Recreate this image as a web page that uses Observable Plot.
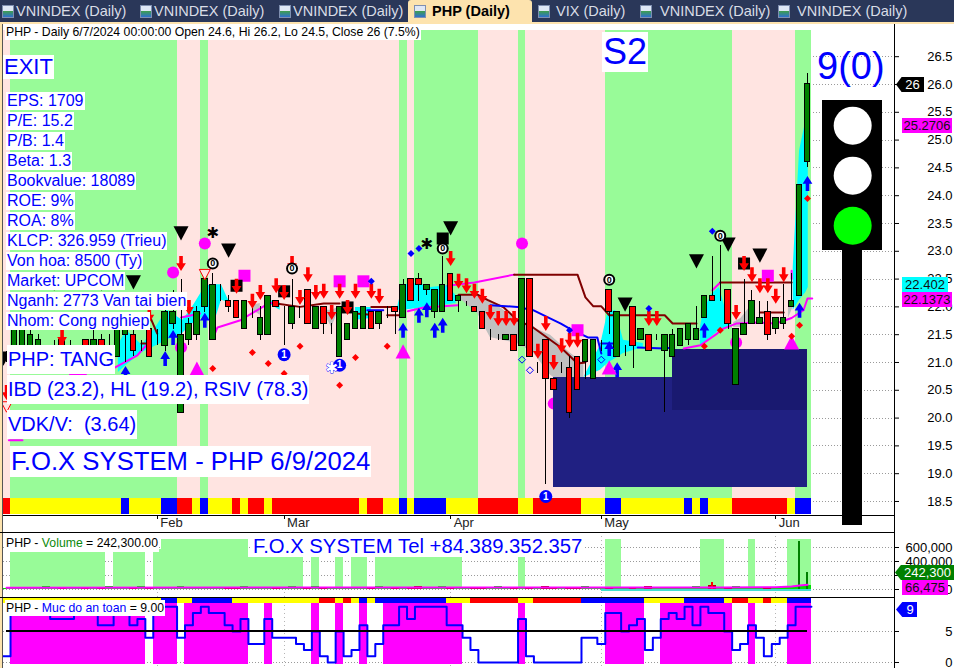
<!DOCTYPE html>
<html><head><meta charset="utf-8">
<script src="https://cdn.jsdelivr.net/npm/d3@7"></script>
<script src="https://cdn.jsdelivr.net/npm/@observablehq/plot@0.6"></script>
<style>
html,body{margin:0;padding:0;background:#fff;overflow:hidden}
#page{position:relative;width:954px;height:668px;font-family:"Liberation Sans",Arial,sans-serif;overflow:hidden}
#page>*{position:absolute}
.lbl{background:#fff;color:#00f;white-space:pre;box-sizing:border-box}
.tab{color:#d9dde6;font-size:14.5px;top:3px;white-space:pre}
.icon{width:12px;height:13px;top:5px;background:linear-gradient(#dfe8f6 45%,#3fa04a 45%,#2f6fd0);border:1px solid #7f8fb0;box-sizing:border-box}
.chip{font-size:13px;line-height:15px;height:15px;text-align:center;white-space:pre}
svg{display:block}
</style></head><body><div id="page"></div>
<script>
// ---------- Candles (bar 0 .. 101), prices in VND thousand ----------
const opens =[21.1,21.1,21.1,21.1,21.1,21.1,21.2,21.4,21.3,21.2,21.4,21.1,21.4,21.3,21.1,21.5,21.5,21.3,21.6,21.5,21.3,21.7,20.1,21.4,21.5,22.0,21.4,22.2,22.1,22.1,21.6,21.8,21.5,21.5,22.1,21.8,21.7,21.9,22.3,21.6,22.0,21.6,21.1,21.4,21.6,21.6,21.9,21.7,21.8,22.0,21.8,22.5,22.5,22.3,21.9,21.9,22.6,22.1,22.0,22.0,21.9,21.6,21.5,21.4,21.5,21.3,22.5,20.9,21.4,20.7,20.9,20.9,21.1,21.0,20.7,21.3,22.3,21.1,21.2,22.0,21.4,21.5,21.4,21.2,21.1,21.3,21.4,21.4,21.8,22.2,22.4,22.3,20.6,21.5,21.7,21.7,21.9,21.6,21.7,22.0,22.2,24.6];
const highs =[21.2,21.7,21.8,21.6,21.5,21.3,21.4,21.5,21.4,21.3,21.4,21.6,21.5,21.5,21.8,21.7,21.6,21.4,21.7,21.6,22.1,22.3,22.5,21.8,22.0,22.6,22.6,22.4,22.2,22.1,22.1,22.0,22.0,22.2,22.1,22.0,22.5,22.0,22.3,22.0,22.0,21.7,22.0,21.7,21.9,22.0,21.9,21.9,22.0,22.0,22.5,22.5,22.6,22.4,22.3,22.9,22.6,22.2,22.1,22.0,21.9,21.6,21.5,21.5,21.5,22.5,22.5,21.0,21.4,20.7,21.0,21.1,21.1,21.4,21.4,21.4,22.3,21.9,21.3,22.0,21.6,21.5,21.5,21.5,21.6,21.6,21.7,22.0,22.2,22.9,23.1,22.3,21.6,22.5,22.3,22.1,22.1,21.8,22.4,22.6,24.2,26.2];
const lows  =[21.0,21.0,21.0,21.0,21.0,21.0,21.1,21.1,21.1,21.1,21.0,21.1,21.0,21.2,21.1,21.0,21.1,21.2,21.1,21.3,21.2,21.6,20.1,21.3,21.4,21.9,21.4,22.1,21.9,21.8,21.6,21.8,21.4,21.5,22.0,21.3,21.6,21.8,21.7,21.6,21.5,21.5,21.1,21.4,21.6,21.6,21.6,21.6,21.8,21.5,21.8,22.1,22.1,22.2,21.8,21.9,22.1,21.9,22.0,21.9,21.6,21.4,21.4,21.4,21.2,21.3,21.1,20.8,18.8,20.5,20.8,20.0,20.5,20.7,20.7,21.2,21.5,21.1,21.1,20.9,21.4,21.2,21.4,20.1,21.1,21.3,21.3,21.4,21.8,22.1,22.1,21.6,20.6,21.5,21.7,21.7,21.4,21.5,21.6,22.0,22.2,24.5];
const closes=[21.1,21.6,21.6,21.5,21.4,21.2,21.3,21.2,21.3,21.2,21.1,21.4,21.1,21.3,21.7,21.6,21.2,21.3,21.1,21.5,21.9,21.9,21.5,21.7,21.9,22.5,22.4,22.2,22.0,21.8,22.1,21.8,21.8,22.2,22.0,21.8,22.0,21.9,21.7,22.0,21.7,21.6,22.0,21.7,21.9,22.0,21.6,21.9,21.8,21.9,22.4,22.1,22.4,22.4,22.3,22.4,22.1,22.2,22.0,21.9,21.6,21.6,21.5,21.5,21.2,22.5,21.1,20.9,20.7,20.5,20.9,20.1,20.5,21.4,21.4,21.3,21.9,21.9,21.2,21.3,21.6,21.2,21.4,21.5,21.5,21.6,21.7,21.6,22.2,22.1,22.4,21.7,21.6,21.7,22.1,21.8,21.5,21.8,21.8,22.1,24.2,26.0];

// ---------- Background day bands [startBar, endBar] ----------
const greenBands=[[1,22],[25,26],[50,51],[52,60],[65,66],[76,92],[100,102]];
const pinkBands =[[0,1],[22,25],[26,50],[51,52],[60,65],[66,76],[92,100]];
const signalStrip=[[0,1,"#ff0000"],[1,15,"#ffff00"],[15,16,"#0000ff"],[16,20,"#ffff00"],[20,22,"#0000ff"],[22,24,"#ff0000"],[24,25,"#ffff00"],[25,26,"#0000ff"],[26,29,"#ffff00"],[29,30,"#ff0000"],[30,31,"#ffff00"],[31,33,"#ff0000"],[33,34,"#ffff00"],[34,45,"#ff0000"],[45,46,"#ffff00"],[46,48,"#ff0000"],[48,50,"#ffff00"],[50,51,"#0000ff"],[51,52,"#ffff00"],[52,56,"#0000ff"],[56,60,"#ffff00"],[60,65,"#ff0000"],[65,67,"#ffff00"],[67,73,"#ff0000"],[73,76,"#ffff00"],[76,78,"#0000ff"],[78,86,"#ffff00"],[86,87,"#0000ff"],[87,88,"#ffff00"],[88,89,"#0000ff"],[89,92,"#ffff00"],[92,99,"#ff0000"],[99,100,"#ffff00"],[100,102,"#0000ff"]];

// ---------- Overlaid lines, broken into visible pieces ----------
const brownPieces=[
 [[17,21.34],[18,21.34]],[[18,21.85],[19,21.52]],
 [[34,22.06],[37,22.0],[40,22.06],[42,22.06]],[[44,21.88],[46,21.86]],[[46,22.0],[49,22.0]],[[48,21.85],[49.5,21.85]],
 [[57,22.22],[59.4,22.22],[60.7,22.12],[62.7,21.99],[64.4,21.76],[66.4,21.63],[69.9,21.27],[72,20.98],[73,21.0]],
 [[64,22.58],[72,22.58],[73,22.17],[74,22.01],[75,22.01],[76,21.85],[83,21.85],[84,21.7],[87,21.7]],
 [[90,22.44],[99,22.44]],[[95,21.9],[98,21.9]]];
const magentaPieces=[
 [[0.3,19.6],[2,19.6]],[[1,21.7],[1,21.4]],[[8,20.78],[10,20.78]],
 [[13.7,20.91],[16.5,21.13],[17.8,21.34]],[[22,21.81],[24.4,21.88]],
 [[26,21.43],[26.6,21.63],[29.5,21.76],[33,22.06],[34,22.08]],
 [[50.6,21.92],[52.6,21.99],[56.9,22.03]],[[55.6,22.38],[59,22.44],[64,22.58]],
 [[85.4,21.25],[87.5,21.31],[89.6,21.52],[90.4,21.61],[92,21.7],[94.7,21.72],[97,21.7],[99,21.8],[100.5,21.94],[101,22.15],[101.6,22.15]],
 [[89,22.3],[90,22.44]],[[99,22.65],[99,22.5]]];
const bluePieces=[
 [[45.5,21.94],[47.5,21.94]],
 [[61,22.03],[64.4,22.0],[66.4,21.94],[68.6,21.79],[69.9,21.7],[71,21.61],[73.3,21.45],[74.5,21.45],[75,21.16]],
 [[75,21.34],[76.5,21.34]],[[79.6,21.27],[83,21.25],[84,21.27]]];

// ---------- Shaded ribbons: [bar, upper, lower] ----------
const cyanRibbons=[
 [[14.1,21.31,20.82],[15.1,21.58,20.95],[17.1,21.31,21.18],[19,21.67,21.31],[20.2,21.94,21.4],[22.2,21.76,21.52],[23.2,21.94,21.67],[25.1,22.38,21.85],[26.1,22.4,21.67],[27.1,22.4,22.12],[28,22.12,22.08]],
 [[33,22.12,22.06],[34.5,22.08,21.94]],
 [[44,21.99,21.76],[46,21.99,21.79]],
 [[49.3,21.99,21.94],[50,22.4,21.94],[51.9,22.42,21.97],[53.5,22.35,22.01],[55.6,22.38,22.04],[56.7,22.2,22.06]],
 [[72.8,20.73,20.73],[74.9,21.31,20.86],[75.8,21.88,20.98],[76.8,21.94,21.07],[77.8,21.4,21.16],[80.3,21.34,21.27]],
 [[87.5,21.63,21.31],[87.9,21.94,21.34],[89,22.24,21.47],[89.9,22.35,21.58],[90.7,21.94,21.63],[91.3,21.76,21.67]],
 [[99.2,22.71,21.94],[100,24.81,22.12],[100.8,25.35,22.26],[101.1,25.35,22.35]]];
const grayRibbons=[
 [[57,22.2,22.17],[59.4,22.2,21.88],[61,22.12,21.45],[64.4,21.76,21.34],[66.4,21.63,21.18],[68.6,21.49,20.77],[71,21.18,20.53],[72.8,20.98,20.6]],
 [[40,21.94,21.9],[41,21.94,21.63],[42,22.0,21.98]],
 [[31,22.03,21.94],[32,22.06,21.85]],
 [[91.7,21.72,21.63],[92.6,21.79,21.63],[93.6,21.97,21.7]],
 [[98.6,22.0,21.79],[99.2,22.03,22.0]]];
const supplyZones=[[69,101.02,20.73,18.75,"#202082"],[84,101.02,21.23,20.14,"#191970"]];

// ---------- Signal markers [bar, price] ----------
const redArrows=[[0,20.46],[7,21.45],[18,21.85],[22,22.78],[23,21.99],[29,22.37],[31,22.1],[32,22.26],[34,22.38],[35,22.26],[36,22.78],[37,22.17],[38,22.58],[39,22.26],[40,22.28],[41,21.9],[42,22.28],[43,21.99],[44,22.28],[46,22.28],[47,22.19],[56,22.87],[57,22.46],[58,22.38],[59,22.28],[60,22.19],[61,21.9],[62,21.79],[63,21.79],[64,21.79],[67,21.2],[68,21.7],[69,21.0],[70,21.3],[71,21.4],[72,21.4],[81,21.79],[82,21.79],[92,21.9],[93,22.78],[94,22.58],[95,22.38],[96,22.38],[97,22.19],[98,22.58]];
const blueArrows=[[15,20.8],[20,21.07],[21,21.45],[25,21.76],[50,21.58],[52,21.85],[53,21.95],[54,21.58],[55,21.67],[76,21.25],[77,20.87],[88,21.58],[100,21.94],[101,24.22]];
const blackTriangles=[[-0.4,21.07],[6,22.42],[12,22.42],[16,22.44],[22,23.32],[28,23.01],[56,23.41],[78,22.04],[87,22.82],[91,23.12],[95,22.92]];
const magentaSquares=[[30,22.56],[42,22.46],[45,22.46],[72,21.58],[96,22.56]];
const blackSquares=[[29,22.38],[35,22.28],[43,21.99],[93,22.78],[55,23.23]];
const magentaCircles=[[21,22.62],[25,23.14],[22,21.27],[65,23.14],[92,21.36]];
const hiddenCircle=[[69,20.26]];
const magentaTriangles=[[24,20.89],[50,21.2],[76,20.91],[99,21.36]];
const redDiamonds=[[26,20.89],[31,21.18],[33,20.98],[35,20.8],[37,21.29],[42,20.59],[44,21.09],[48,21.29],[88,21.29],[90,21.58],[99,21.47],[100,21.67],[101,23.95]];
const blueDiamonds=[[46,22.46],[51,22.96],[52,23.05],[71,21.58],[81,21.97],[89,23.36]];
const hollowDiamonds=[[65,21.05],[66,20.86],[75,21.05]];
const oneBadges=[[35,21.14],[42,20.95],[68,18.59]];
const zeroBadges=[[26,22.78],[36,22.69],[55,23.05],[76,22.49],[90,23.28]];
const blackStars=[[26,23.32],[53,23.12]];
const blueStars=[[41,20.89]];
const hollowTriangles=[[25,22.58],[0,20.2]];

// ---------- Traffic light ----------
const lightBox=[[102.9,110.45,25.71,23.01]];
const lightPole=[[105.4,107.95,23.01,18.07]];
const lamps=[[106.7,25.26,"#ffffff"],[106.7,24.36,"#ffffff"],[106.7,23.46,"#00ff00"]];

// ---------- Time axis ----------
const monthBars=[19,35,56,75,97];
const monthNames=["Feb","Mar","Apr","May","Jun"];
const priceTicks=[18.5,19,19.5,20,20.5,21,21.5,22,22.5,23,23.5,24,24.5,25,25.5,26,26.5];

// ---------- Volume pane ----------
const volumes=[21000,26000,18000,32000,24000,36000,19000,28000,34000,22000,27000,16000,31000,42000,23000,29000,20000,37000,25000,18000,33000,27000,41000,22000,30000,19000,35000,24000,28000,21000,38000,26000,17000,33000,23000,29000,44000,20000,27000,36000,24000,31000,18000,28000,22000,34000,26000,40000,19000,29000,23000,32000,47000,25000,21000,36000,28000,33000,24000,19000,30000,26000,38000,22000,27000,34000,20000,29000,43000,25000,18000,31000,23000,36000,27000,21000,33000,28000,24000,17000,30000,39000,22000,26000,19000,35000,28000,40000,24000,100000,31000,27000,45000,25000,21000,30000,26000,19000,34000,28000,685000,242300];
const volumeMA=[[0,24000],[30,27000],[60,29000],[90,30000],[97,33000],[99,42000],[100,57000],[101,66475]];
const volBandLow=[[44,46],[39,40],[42,43],[31,38],[47,58],[65,66]];
const volBandMid=[[1,13],[14,18],[19,20]];
const volBandHigh=[[20,31],[76,78],[88,91],[94,95],[99,102]];
const volTicks=[0,200000,400000,600000];

// ---------- Safety pane ----------
const safety=[1,8,8,8,8,8,7,7,7,8,8,8,6,6,8,8,6,7,4,8,9,9,4,6,8,9,8,8,6,5,7,3,3,7,4,4,4,3,2,5,1,0,5,1,2,6,1,3,6,6,9,7,9,9,9,9,6,6,4,2,0,0,0,0,0,7,1,0,0,0,0,0,0,4,4,3,8,8,5,6,7,2,4,7,8,7,9,6,9,8,8,5,2,3,6,4,1,3,4,6,9,9];
const safetyZones=[[1,18],[19,22],[23,31],[33,34],[39,40],[42,43],[45,46],[48,58],[65,66],[76,81],[83,92],[94,95],[99,102]];
const safetyStrip=[[0,20,"#ffff00"],[20,22,"#0000ff"],[22,24,"#ffff00"],[24,29,"#0000ff"],[29,40,"#ffff00"],[40,42,"#ff0000"],[42,43,"#ffff00"],[43,44,"#ff0000"],[44,45,"#ffff00"],[45,46,"#0000ff"],[46,47,"#ffff00"],[47,56,"#0000ff"],[56,59,"#ffff00"],[59,65,"#ff0000"],[65,67,"#ffff00"],[67,73,"#ff0000"],[73,81,"#0000ff"],[81,86,"#ffff00"],[86,91,"#0000ff"],[91,92,"#ffff00"],[92,94,"#ff0000"],[94,96,"#ffff00"],[96,97,"#ff0000"],[97,99,"#ffff00"],[99,102,"#0000ff"]];
const safetyTicks=[0,5];

// ---------- Text ----------
const fundamentals=["EPS: 1709","P/E: 15.2","P/B: 1.4","Beta: 1.3","Bookvalue: 18089","ROE: 9%","ROA: 8%","KLCP: 326.959 (Trieu)","Von hoa: 8500 (Ty)","Market: UPCOM","Nganh: 2773 Van tai bien","Nhom: Cong nghiep"];
const tabTitles=[["VNINDEX (Daily)",16,2],["VNINDEX (Daily)",154,140],["VNINDEX (Daily)",293,279],["VIX (Daily)",556,538],["VNINDEX (Daily)",660,640],["VNINDEX (Daily)",797,778]];

// ---------- Shared scale and glyphs ----------
const xDomain=[-0.7654,119.5397];
const axisBar=111.97;
const sym=pts=>({draw(c,size){const r=Math.sqrt(size/Math.PI);pts.forEach(([a,b],k)=>k?c.lineTo(a*r,b*r):c.moveTo(a*r,b*r));c.closePath();}});
const arrowDown=sym([[-.24,-1],[.24,-1],[.24,-.05],[.65,-.05],[0,1],[-.65,-.05],[-.24,-.05]]);
const arrowUp=sym([[-.24,1],[.24,1],[.24,.05],[.65,.05],[0,-1],[-.65,.05],[-.24,.05]]);
const triDown=sym([[-1,-.95],[1,-.95],[0,.95]]);
const triUp=sym([[-1,.95],[1,.95],[0,-.95]]);
const square=sym([[-1,-1],[1,-1],[1,1],[-1,1]]);
const diamond=sym([[0,-1],[1,0],[0,1],[-1,0]]);
const font={fontFamily:"'Liberation Sans',Arial,sans-serif",fontSize:"13px",background:"transparent",color:"#000",overflow:"hidden"};
const base=(h,yDomain,marks)=>Plot.plot({width:954,height:h,marginTop:0,marginBottom:0,marginLeft:0,marginRight:60,style:font,
  x:{domain:xDomain,range:[0,954],axis:null},y:{domain:yDomain,range:[h,0]},marks});
const crisp={shapeRendering:"crispEdges"};
const bandRect=(rows,y1,y2,fill)=>Plot.rect(rows,{x1:d=>d[0]-.5,x2:d=>d[1]-.5,y1,y2,fill,...crisp});
const stripRect=(rows,y1,y2)=>Plot.rect(rows,{x1:d=>d[0]-.5,x2:d=>d[1]-.5,y1,y2,fill:d=>d[2],...crisp});
const pieces=(arr,stroke,strokeWidth)=>arr.map(a=>Plot.line(a,{x:d=>d[0],y:d=>d[1],stroke,strokeWidth,curve:"linear"}));
const ribbons=(arr,fill)=>arr.map(a=>Plot.areaY(a,{x:d=>d[0],y1:d=>d[2],y2:d=>d[1],fill,curve:"linear"}));
const marker=(rows,symbol,r,fill,extra={})=>Plot.dot(rows,{x:d=>d[0],y:d=>d[1],symbol,r,fill,stroke:"none",...extra});
const dotted=(ticks)=>Plot.ruleY(ticks,{x1:xDomain[0],x2:axisBar,stroke:"#9a9a9a",strokeDasharray:"1,2",...crisp});
const rightAxis=(ticks,tickFormat)=>Plot.axisY({anchor:"right",ticks,tickFormat,tickSize:4,tickPadding:54,textAnchor:"end",label:null});
const bars=d3.range(opens.length);
const isUp=i=>closes[i]>=opens[i];

// ---------- Main pane ----------
const main=base(510,[17.942,27.115],[
  dotted(priceTicks),
  bandRect(greenBands,18.554,26.97,"#98fb98"),
  bandRect(pinkBands,18.554,26.97,"#ffe4e1"),
  stripRect(signalStrip,18.266,18.554),
  marker(hiddenCircle,"circle",6,"#ff00ff"),
  ...ribbons(cyanRibbons,"#00ffff"),
  ...ribbons(grayRibbons,"#c0c0c0"),
  Plot.rect(supplyZones,{x1:d=>d[0],x2:d=>d[1],y1:d=>d[3],y2:d=>d[2],fill:d=>d[4],...crisp}),
  ...pieces(magentaPieces,"#ff00ff",2),
  ...pieces(brownPieces,"#800000",2),
  ...pieces(bluePieces,"#0000ff",2),
  marker(magentaCircles,"circle",6,"#ff00ff"),
  marker(magentaSquares,square,6,"#ff00ff"),
  marker(blackSquares,square,6,"#000"),
  Plot.ruleX(bars,{x:i=>i,y1:i=>lows[i],y2:i=>highs[i],stroke:"#000",strokeWidth:1,...crisp}),
  Plot.rect(bars,{x1:i=>i-.35,x2:i=>i+.35,y1:i=>Math.min(opens[i],closes[i]),y2:i=>Math.max(opens[i],closes[i]),fill:i=>isUp(i)?"#008000":"#ff0000",stroke:"#000",strokeWidth:1,...crisp}),
  marker(redArrows,arrowDown,7.5,"#ff0000"),
  marker(blueArrows,arrowUp,7.5,"#0000ff"),
  marker(blackTriangles,triDown,7.5,"#000"),
  marker(magentaTriangles,triUp,7.5,"#ff00ff"),
  marker(hollowTriangles,triDown,5.5,"#ffe4e1",{stroke:"#ff0000",strokeWidth:1}),
  marker(redDiamonds,diamond,3.5,"#ff0000"),
  marker(blueDiamonds,diamond,3.5,"#0000ff"),
  marker(hollowDiamonds,diamond,3.5,"none",{stroke:"#0000ff",strokeWidth:1}),
  marker(oneBadges,"circle",6.5,"#0000ff"),
  Plot.text(oneBadges,{x:d=>d[0],y:d=>d[1],text:()=>"1",fill:"#fff",fontSize:10,fontWeight:"bold"}),
  marker(zeroBadges,"circle",5,"#fff",{stroke:"#000",strokeWidth:2}),
  Plot.text(zeroBadges,{x:d=>d[0],y:d=>d[1],text:()=>"0",fill:"#000",fontSize:9,fontWeight:"bold"}),
  Plot.text(blackStars,{x:d=>d[0],y:d=>d[1],text:()=>"✱",fill:"#000",fontSize:15,fontFamily:"DejaVu Sans"}),
  Plot.text(blueStars,{x:d=>d[0],y:d=>d[1],text:()=>"✱",fill:"#fff",stroke:"#0000ff",strokeWidth:.8,fontSize:15,fontFamily:"DejaVu Sans"}),
  Plot.ruleY([18.248],{x1:xDomain[0],x2:axisBar,stroke:"#000",...crisp}),
  Plot.ruleX(monthBars,{y1:18.248,y2:18.18,stroke:"#000",...crisp}),
  Plot.text(monthBars.map((b,k)=>[b,monthNames[k]]),{x:d=>d[0],y:18.12,text:d=>d[1],textAnchor:"start",dx:3,fontSize:13,fill:"#222"}),
  rightAxis(priceTicks,d3.format(".1f")),
  Plot.rect(lightPole,{x1:d=>d[0],x2:d=>d[1],y1:d=>d[3],y2:d=>d[2],fill:"#000",...crisp}),
  Plot.rect(lightBox,{x1:d=>d[0],x2:d=>d[1],y1:d=>d[3],y2:d=>d[2],fill:"#000",...crisp}),
  Plot.dot(lamps,{x:d=>d[0],y:d=>d[1],r:19,fill:d=>d[2],stroke:"none"})
]);

// ---------- Volume pane ----------
const volume=base(65,[-114286,814286],[
  dotted(volTicks),
  Plot.ruleX(monthBars,{stroke:"#b5b5b5",strokeDasharray:"1,3",...crisp}),
  bandRect(volBandLow,15000,457000,"#98fb98"),
  bandRect(volBandMid,15000,571000,"#98fb98"),
  bandRect(volBandHigh,15000,714000,"#98fb98"),
  Plot.rect([[75,102]],{x1:d=>d[0],x2:d=>d[1]-.5,y1:-22000,y2:0,fill:"#40e0d0",...crisp}),
  Plot.rect(bars,{x1:i=>i-.5,x2:i=>i+.5,y1:0,y2:i=>Math.min(volumes[i],60000),fill:i=>isUp(i)?"#00e000":"#b00000",...crisp}),
  Plot.rect(bars.filter(i=>volumes[i]>60000),{x1:i=>i-.12,x2:i=>i+.12,y1:0,y2:i=>volumes[i],fill:i=>isUp(i)?"#008000":"#ff0000",...crisp}),
  Plot.line(volumeMA,{x:d=>d[0],y:d=>d[1],stroke:"#ff00ff",strokeWidth:2}),
  rightAxis(volTicks,d3.format(","))
]);

// ---------- Safety pane ----------
const safetySteps=[...safety.map((v,i)=>[i-.5,v]),[safety.length-.5,safety[safety.length-1]]];
const safetyPane=base(71,[-0.968,10.484],[
  dotted(safetyTicks),
  Plot.ruleX(monthBars,{stroke:"#b5b5b5",strokeDasharray:"1,3",...crisp}),
  bandRect(safetyZones,-0.32,9.52,"#ff00ff"),
  stripRect(safetyStrip,9.52,10.32),
  Plot.line(safetySteps,{x:d=>d[0],y:d=>d[1],stroke:"#0000ff",strokeWidth:2,curve:"step-after"}),
  Plot.ruleY([5],{x1:0,x2:101,stroke:"#000",strokeWidth:2,...crisp}),
  rightAxis(safetyTicks,d3.format("d"))
]);

// ---------- Page assembly ----------
const page=document.getElementById("page");
const el=(css,html="",cls="")=>{const e=document.createElement("div");e.style.cssText=css;e.innerHTML=html;if(cls)e.className=cls;page.appendChild(e);return e;};
const put=(node,top)=>{node.style.position="absolute";node.style.left="0";node.style.top=top+"px";page.appendChild(node);};
put(main,22);put(volume,532);put(safetyPane,597);
// window chrome
el("left:0;top:0;width:954px;height:22px;background:#2a3759");
el("left:408px;top:0;width:124px;height:22px;background:#fde3ae;border-radius:3px 3px 0 0");
el("left:0;top:22px;width:954px;height:2px;background:#fde3ae");
el("left:0;top:22px;width:2px;height:646px;background:#fde3ae");
el("left:2px;top:24px;width:1px;height:644px;background:#555");
tabTitles.forEach(([t,x,ix])=>{el(`left:${x}px`,t,"tab");el(`left:${ix}px`,"","icon");});
el("left:414px","","icon");
el("left:432px;top:3px;font-size:14.5px;font-weight:bold;color:#000;white-space:pre","PHP (Daily)");
// separators and axis line
el("left:0;top:532px;width:894px;height:1px;background:#000");
el("left:0;top:597px;width:894px;height:1px;background:#000");
el("left:894px;top:24px;width:1px;height:644px;background:#000");
// labels
const label=(x,y,h,size,txt,w)=>el(`left:${x}px;top:${y}px;height:${h}px;line-height:${h}px;font-size:${size}px;padding:0 1px;${w?`width:${w}px;`:""}`,txt,"lbl");
label(5,24,16,12.25,"<span style='color:#000'>PHP - Daily 6/7/2024 00:00:00 Open 24.6, Hi 26.2, Lo 24.5, Close 26 (7.5%)</span>");
label(3,55,24,22,"EXIT");
fundamentals.forEach((t,k)=>label(6,92+20*k,18,16,t));
label(7,345,29,20,"PHP: TANG");
label(7,375,29,20,"IBD (23.2), HL (19.2), RSIV (78.3)");
label(7,410,29,20,"VDK/V:  (3.64)");
label(10,446,31,25.7,"F.O.X SYSTEM - PHP 6/9/2024");
label(602,32,40,36,"S2");
el("left:817px;top:44px;font-size:38px;line-height:44px;color:#00f;white-space:pre","9(0)");
label(5,535,17,12.25,"<span style='color:#000'>PHP - </span><span style='color:#0a8a0a'>Volume</span><span style='color:#000'> = 242,300.00</span>");
label(252,536,21,20.3,"F.O.X SYSTEM Tel +84.389.352.357");
label(5,600,16,12.25,"<span style='color:#000'>PHP - </span><span style='color:#00f'>Muc do an toan</span><span style='color:#000'> = 9.00</span>");
// value chips
const arrowClip="clip-path:polygon(0 50%,20% 0,100% 0,100% 100%,20% 100%);";
el(`left:896px;top:77px;width:28px;background:#000;color:#fff;padding-left:5px;box-sizing:border-box;${arrowClip}`,"26","chip");
el("left:902px;top:118px;width:50px;background:#ff00ff;color:#111","25.2706","chip");
el("left:902px;top:277px;width:46px;background:#00ffff;color:#111","22.402","chip");
el("left:902px;top:292px;width:50px;background:#ff00ff;color:#111","22.1373","chip");
el("left:895px;top:565px;width:59px;background:#008000;color:#fff;padding-left:6px;box-sizing:border-box;clip-path:polygon(0 50%,10% 0,100% 0,100% 100%,10% 100%)","242,300","chip");
el("left:902px;top:580px;width:46px;background:#ff00ff;color:#111","66,475","chip");
el(`left:896px;top:602px;width:21px;background:#0000ff;color:#fff;padding-left:7px;box-sizing:border-box;clip-path:polygon(0 50%,30% 0,100% 0,100% 100%,30% 100%)`,"9","chip");
</script></body></html>
